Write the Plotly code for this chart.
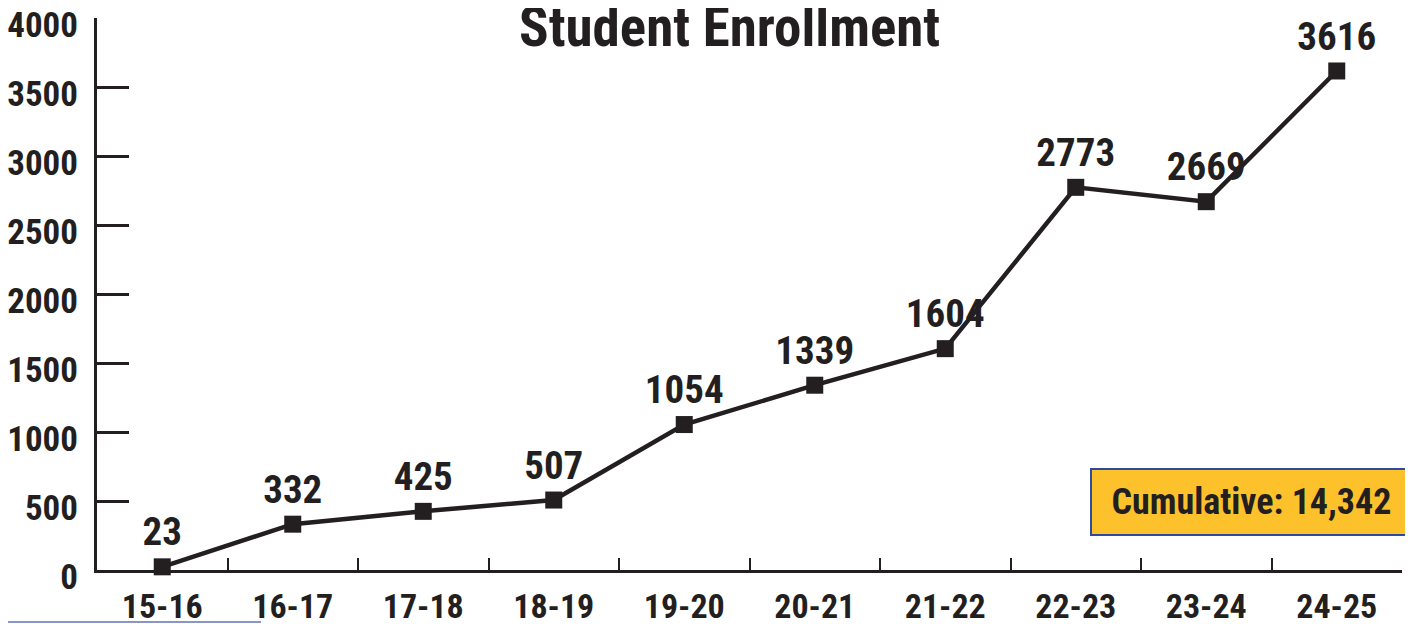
import plotly.graph_objects as go

years = ["15-16", "16-17", "17-18", "18-19", "19-20", "20-21", "21-22", "22-23", "23-24", "24-25"]
enrollment = [23, 332, 425, 507, 1054, 1339, 1604, 2773, 2669, 3616]
y_ticks = [0, 500, 1000, 1500, 2000, 2500, 3000, 3500, 4000]
title_text = "Student Enrollment"
cumulative_text = "Cumulative: 14,342"

FONT = "Roboto Condensed"
DARK = "#231f20"

def f(size):
    return dict(family=FONT, size=size, color=DARK, weight="bold")

fig = go.Figure()
fig.add_trace(go.Scatter(
    x=years, y=enrollment,
    mode="lines+markers+text",
    text=[str(v) for v in enrollment],
    textposition="top center",
    textfont=f(39),
    line=dict(color=DARK, width=4.5),
    marker=dict(symbol="square", size=17, color=DARK),
    cliponaxis=False,
    hoverinfo="x+y",
))

fig.update_layout(
    width=1405, height=616,
    margin=dict(l=89, r=11, t=10, b=54, autoexpand=False),
    paper_bgcolor="white",
    plot_bgcolor="rgba(0,0,0,0)",
    showlegend=False,
    font=f(20),
    xaxis=dict(
        type="category",
        range=[-0.5, 9.5],
        tickson="boundaries",
        ticks="inside", ticklen=12, tickwidth=2, tickcolor=DARK,
        showline=True, linewidth=3, linecolor=DARK,
        showgrid=False, zeroline=False, automargin=False,
        tickfont=f(34),
        ticklabelstandoff=4,
        ticklabeloverflow="allow",
    ),
    yaxis=dict(
        range=[0, 4000],
        tickvals=y_ticks,
        ticks="inside", ticklen=32, tickwidth=3, tickcolor=DARK,
        showline=True, linewidth=3, linecolor=DARK,
        showgrid=False, zeroline=False, automargin=False,
        tickfont=f(35),
        ticklabelstandoff=9,
        ticklabelshift=7,
        ticklabeloverflow="allow",
    ),
    annotations=[
        dict(text=title_text, xref="paper", yref="paper", x=0.485, y=1.045,
             xanchor="center", yanchor="top", showarrow=False,
             font=f(55)),
        dict(text=cumulative_text, xref="paper", yref="paper", x=0.8843, y=0.1223,
             xanchor="center", yanchor="middle", showarrow=False,
             bgcolor="#fdc22b", bordercolor="#2f4b9b", borderwidth=2, borderpad=1,
             width=317, height=62,
             font=f(36)),
    ],
    shapes=[
        dict(type="line", xref="paper", yref="paper", x0=-89 / 1305, x1=164 / 1305,
             y0=-52 / 552, y1=-52 / 552, line=dict(color="#8a96c4", width=2)),
    ],
)

fig.write_html("out.html")
